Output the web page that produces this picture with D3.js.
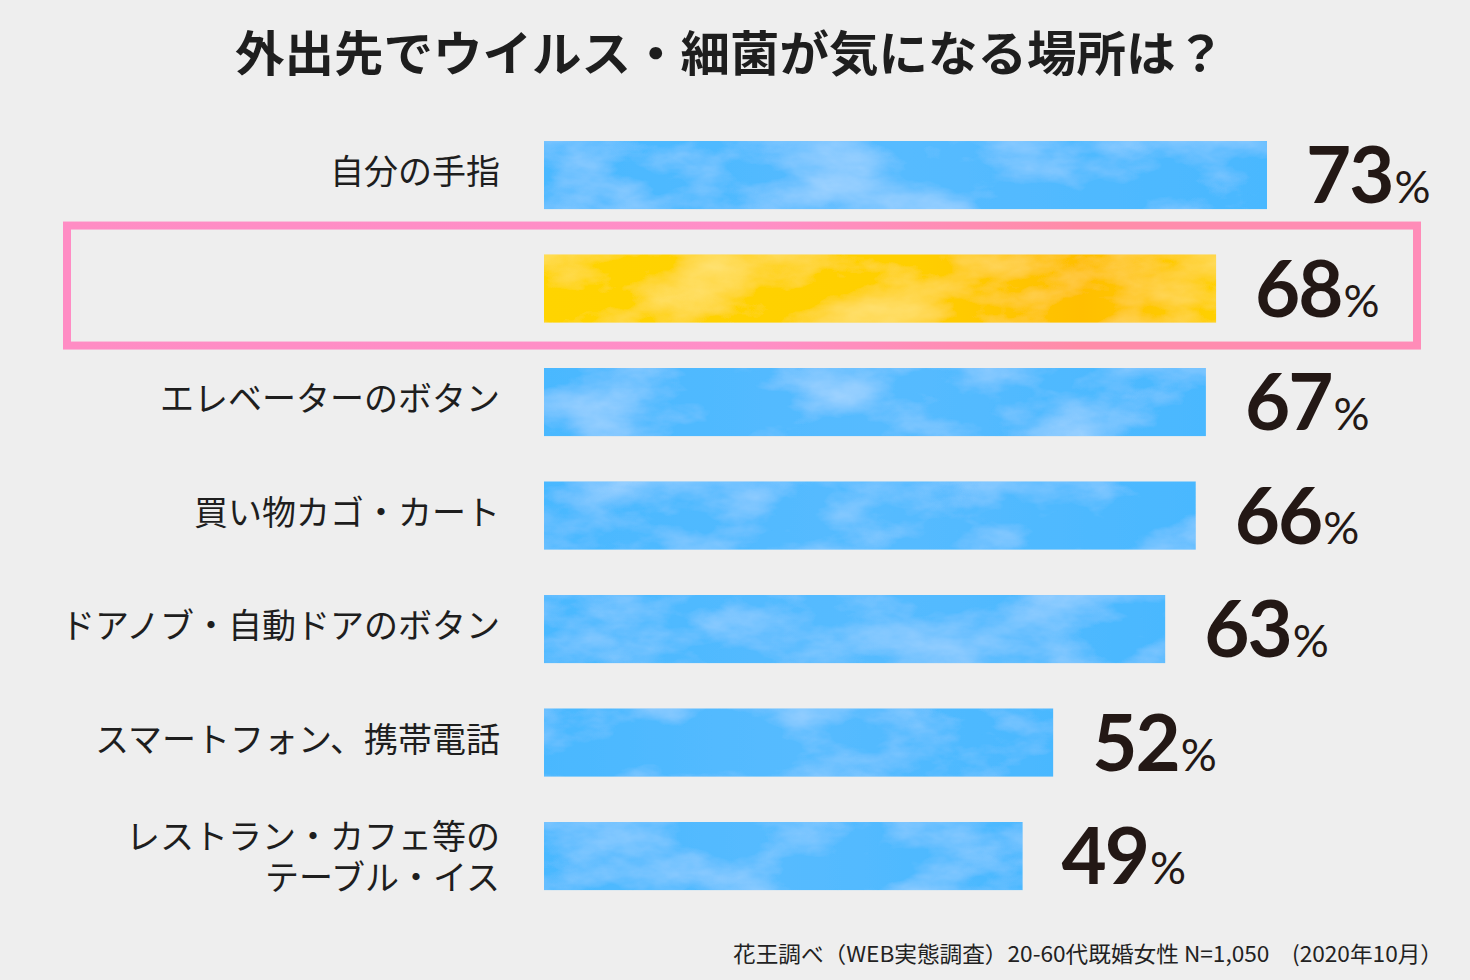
<!DOCTYPE html>
<html><head><meta charset="utf-8">
<script src="https://cdn.jsdelivr.net/npm/d3@7"></script>
<style>
html,body{margin:0;padding:0;background:#eeeeee;}
svg{display:block;}
</style></head>
<body>
<svg id="chart" width="1470" height="980"></svg>
<script>
const categories = [["自分の手指"], [""], ["エレベーターのボタン"], ["買い物カゴ・カート"], ["ドアノブ・自動ドアのボタン"], ["スマートフォン、携帯電話"], ["レストラン・カフェ等の", "テーブル・イス"]];
const values = [73, 68, 67, 66, 63, 52, 49];
const highlight = [false, true, false, false, false, false, false];
const titleText = "外出先でウイルス・細菌が気になる場所は？";
const noteText = "花王調べ（WEB実態調査）20-60代既婚女性 N=1,050　(2020年10月）";

const svg = d3.select("#chart");
const W = 1470, H = 980;
svg.append("rect").attr("width", W).attr("height", H).attr("fill", "#eeeeee");

const defs = svg.append("defs");
function wc(id, seed, fx, fy, strength, col) {
  const f = defs.append("filter").attr("id", id).attr("x", 0).attr("y", 0).attr("width", 1).attr("height", 1);
  f.append("feTurbulence").attr("type", "fractalNoise").attr("baseFrequency", fx + " " + fy).attr("numOctaves", 5).attr("seed", seed).attr("result", "n");
  f.append("feColorMatrix").attr("in", "n").attr("type", "matrix")
    .attr("values", `0 0 0 0 ${col[0]}  0 0 0 0 ${col[1]}  0 0 0 0 ${col[2]}  ${strength} 0 0 0 ${-strength*0.42}`).attr("result", "w");
  f.append("feComposite").attr("in", "w").attr("in2", "SourceGraphic").attr("operator", "in").attr("result", "wm");
  const m = f.append("feMerge");
  m.append("feMergeNode").attr("in", "SourceGraphic");
  m.append("feMergeNode").attr("in", "wm");
}
wc("wcBlue", 7, 0.009, 0.018, 1.1, [0.6, 0.8, 1]);
wc("wcYellow", 11, 0.009, 0.018, 1.0, [1, 0.9, 0.35]);

const gB = defs.append("linearGradient").attr("id", "gBlue");
gB.append("stop").attr("offset", "0%").attr("stop-color", "#4ab8ff");
gB.append("stop").attr("offset", "50%").attr("stop-color", "#56bbff");
gB.append("stop").attr("offset", "100%").attr("stop-color", "#4ab8ff");
const gY = defs.append("linearGradient").attr("id", "gYellow");
gY.append("stop").attr("offset", "0%").attr("stop-color", "#ffd400");
gY.append("stop").attr("offset", "55%").attr("stop-color", "#ffcf00");
gY.append("stop").attr("offset", "80%").attr("stop-color", "#ffbf00");
gY.append("stop").attr("offset", "100%").attr("stop-color", "#ffd000");
const gP = defs.append("linearGradient").attr("id", "gPink");
gP.append("stop").attr("offset", "0%").attr("stop-color", "#ff8cc4");
gP.append("stop").attr("offset", "50%").attr("stop-color", "#ff8fc8");
gP.append("stop").attr("offset", "75%").attr("stop-color", "#ff8ca8");
gP.append("stop").attr("offset", "100%").attr("stop-color", "#ff8cb8");

const x = d3.scaleLinear().domain([2, 73]).range([544, 1267]);
const y = d3.scaleBand().domain(d3.range(values.length)).range([118.3, 912.8]).paddingInner(0.4).paddingOuter(0.2);

// title
svg.append("text").attr("x", 730).attr("y", 71).attr("text-anchor", "middle")
  .attr("font-family", "'Noto Sans CJK JP', sans-serif").attr("font-weight", 700)
  .attr("font-size", 48).attr("textLength", 990).attr("lengthAdjust", "spacingAndGlyphs")
  .attr("fill", "#1e1e1e").text(titleText);

// highlight frame
const hi = highlight.indexOf(true);
svg.append("rect").attr("x", 67).attr("y", y(hi) + y.bandwidth()/2 - 63).attr("width", 1350).attr("height", 120)
  .attr("fill", "none").attr("stroke", "url(#gPink)").attr("stroke-width", 8);

const rows = svg.append("g").selectAll("g").data(values).join("g");
rows.append("rect")
  .attr("x", x(2)).attr("y", (d, i) => y(i))
  .attr("width", d => x(d) - x(2)).attr("height", y.bandwidth())
  .attr("fill", (d, i) => highlight[i] ? "url(#gYellow)" : "url(#gBlue)")
  .attr("filter", (d, i) => highlight[i] ? "url(#wcYellow)" : "url(#wcBlue)");

// labels
rows.each(function(d, i) {
  const lines = categories[i];
  const cy = y(i) + y.bandwidth()/2;
  const lh = 41.5;
  const shift = lines.length > 1 ? 4.5 : 0;
  const t = d3.select(this).append("text")
    .attr("text-anchor", "end")
    .attr("font-family", "'Noto Sans CJK JP', sans-serif").attr("font-weight", 400)
    .attr("font-size", 34).attr("fill", "#1e1e1e");
  lines.forEach((s, k) => {
    t.append("tspan").attr("x", 500)
      .attr("y", cy + (k - (lines.length - 1)/2) * lh + 9 + shift).text(s);
  });
});

// values
const vt = rows.append("text")
  .attr("x", d => x(d) + 39).attr("y", (d, i) => y(i) + y.bandwidth()/2 + 28)
  .attr("font-family", "Lato, 'Noto Sans', sans-serif").attr("font-weight", 700).attr("fill", "#231815");
vt.append("tspan").attr("font-size", 78).attr("letter-spacing", -2).text(d => d);
vt.append("tspan").attr("font-size", 45).attr("font-weight", 400).attr("dx", 2).text("%");

// footnote
svg.append("text").attr("x", 1443).attr("y", 962).attr("text-anchor", "end")
  .attr("font-family", "'Noto Sans CJK JP', sans-serif").attr("font-size", 22)
  .attr("textLength", 710).attr("lengthAdjust", "spacingAndGlyphs")
  .attr("fill", "#222").text(noteText);
</script>
</body></html>
